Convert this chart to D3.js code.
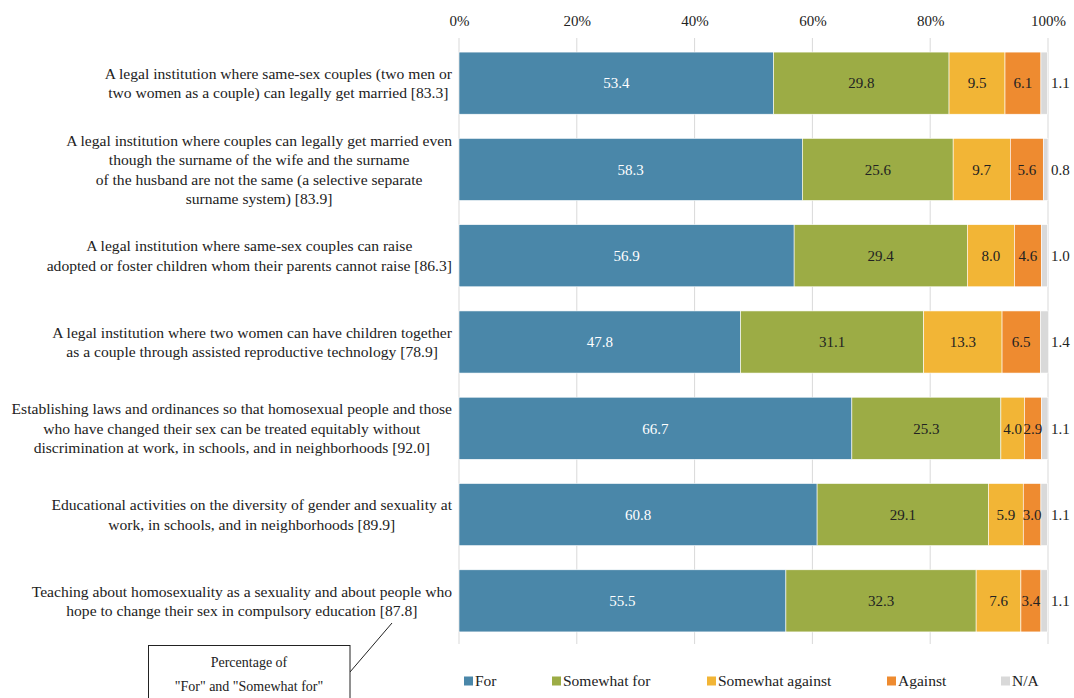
<!DOCTYPE html>
<html>
<head>
<meta charset="utf-8">
<script src="https://cdn.jsdelivr.net/npm/d3@7"></script>
<style>
  body { margin: 0; background: #fff; }
  text { font-family: "Liberation Serif", "Times New Roman", serif; fill: #222; }
</style>
</head>
<body>
<svg id="chart" width="1074" height="698"></svg>
<script>
// survey items (line breaks as in the original)
var items = [
  ["A legal institution where same-sex couples (two men or", "two women as a couple) can legally get married [83.3]"],
  ["A legal institution where couples can legally get married even", "though the surname of the wife and the surname", "of the husband are not the same (a selective separate", "surname system) [83.9]"],
  ["A legal institution where same-sex couples can raise", "adopted or foster children whom their parents cannot raise [86.3]"],
  ["A legal institution where two women can have children together", "as a couple through assisted reproductive technology [78.9]"],
  ["Establishing laws and ordinances so that homosexual people and those", "who have changed their sex can be treated equitably without", "discrimination at work, in schools, and in neighborhoods [92.0]"],
  ["Educational activities on the diversity of gender and sexuality at", "work, in schools, and in neighborhoods [89.9]"],
  ["Teaching about homosexuality as a sexuality and about people who", "hope to change their sex in compulsory education [87.8]"]
];
var seriesNames = ["For", "Somewhat for", "Somewhat against", "Against", "N/A"];
var forVals = [53.4, 58.3, 56.9, 47.8, 66.7, 60.8, 55.5];
var somewhatForVals = [29.8, 25.6, 29.4, 31.1, 25.3, 29.1, 32.3];
var somewhatAgainstVals = [9.5, 9.7, 8.0, 13.3, 4.0, 5.9, 7.6];
var againstVals = [6.1, 5.6, 4.6, 6.5, 2.9, 3.0, 3.4];
var naVals = [1.1, 0.8, 1.0, 1.4, 1.1, 1.1, 1.1];
var ticks = [0, 20, 40, 60, 80, 100];

var colors = ["#4a87a9", "#9cac45", "#f2b536", "#ee8b30", "#d9d9d9"];

var svg = d3.select("#chart");
var plotLeft = 459, plotRight = 1048, plotTop = 40, plotBottom = 644;

var x = d3.scaleLinear().domain([0, 100]).range([plotLeft, plotRight]);
var y = d3.scaleBand().domain(d3.range(items.length)).range([plotTop, plotBottom]).paddingInner(0.28).paddingOuter(0.14);

// rows for the stack
var rows = items.map(function (d, i) {
  return { "For": forVals[i], "Somewhat for": somewhatForVals[i], "Somewhat against": somewhatAgainstVals[i],
    "Against": againstVals[i], "N/A": naVals[i], idx: i };
});
var stack = d3.stack().keys(seriesNames)(rows);

// gridlines
svg.append("g").selectAll("line").data(ticks).join("line")
  .attr("x1", function (d) { return x(d); }).attr("x2", function (d) { return x(d); })
  .attr("y1", plotTop - 2).attr("y2", plotBottom)
  .attr("stroke", "#d9d9d9").attr("stroke-width", 1);

// top axis labels
var axis = d3.axisTop(x).tickValues(ticks).tickFormat(function (d) { return d + "%"; }).tickSize(0).tickPadding(0);
var ag = svg.append("g").attr("transform", "translate(0,26)").call(axis);
ag.select(".domain").remove();
ag.selectAll("text").style("font-family", "Liberation Serif, serif").style("font-size", "15px").attr("fill", "#222");

// bars
var layers = svg.append("g").selectAll("g").data(stack).join("g")
  .attr("fill", function (d, i) { return colors[i]; });
layers.selectAll("rect").data(function (d) { return d; }).join("rect")
  .attr("x", function (d) { return x(d[0]); })
  .attr("y", function (d) { return y(d.data.idx); })
  .attr("width", function (d) { return x(d[1]) - x(d[0]); })
  .attr("height", y.bandwidth())
  .attr("stroke", "#fff").attr("stroke-width", 0.6);

// value labels
stack.forEach(function (layer, li) {
  svg.append("g").selectAll("text").data(layer).join("text")
    .attr("x", function (d) { return li === 4 ? x(100) + 3 : (x(d[0]) + x(d[1])) / 2; })
    .attr("y", function (d) { return y(d.data.idx) + y.bandwidth() / 2; })
    .attr("dy", "0.35em")
    .attr("text-anchor", li === 4 ? "start" : "middle")
    .style("font-size", "15px")
    .style("fill", li === 0 ? "#fff" : "#222")
    .text(function (d) { return (d[1] - d[0]).toFixed(1); });
});

// category labels: block right-aligned, lines centred within the block
var lineH = 19.5;
items.forEach(function (lines, i) {
  var g = svg.append("g");
  var cy = y(i) + y.bandwidth() / 2;
  var txts = g.selectAll("text").data(lines).join("text")
    .attr("y", function (d, j) { return cy + (j - (lines.length - 1) / 2) * lineH; })
    .attr("dy", "0.35em")
    .attr("text-anchor", "middle")
    .style("font-size", "15.6px")
    .text(function (d) { return d; });
  var maxW = d3.max(txts.nodes(), function (n) { return n.getComputedTextLength(); });
  txts.attr("x", 452 - maxW / 2);
});

// legend
var legendX = [464, 552, 707, 887, 1001];
var lg = svg.append("g").selectAll("g").data(seriesNames).join("g")
  .attr("transform", function (d, i) { return "translate(" + legendX[i] + ",681)"; });
lg.append("rect").attr("x", 0).attr("y", -4.5).attr("width", 9).attr("height", 9)
  .attr("fill", function (d, i) { return colors[i]; });
lg.append("text").attr("x", 11).attr("dy", "0.35em").style("font-size", "15.5px").text(function (d) { return d; });

// callout box
svg.append("line").attr("x1", 350).attr("y1", 672).attr("x2", 392).attr("y2", 623)
  .attr("stroke", "#222").attr("stroke-width", 1);
svg.append("rect").attr("x", 148.5).attr("y", 645.5).attr("width", 201.5).attr("height", 60)
  .attr("fill", "#fff").attr("stroke", "#222").attr("stroke-width", 1);
svg.append("text").attr("x", 249).attr("y", 662).attr("dy", "0.35em").attr("text-anchor", "middle")
  .style("font-size", "14px").text("Percentage of");
svg.append("text").attr("x", 249).attr("y", 686).attr("dy", "0.35em").attr("text-anchor", "middle")
  .style("font-size", "14px").text("\"For\" and \"Somewhat for\"");
</script>
</body>
</html>
